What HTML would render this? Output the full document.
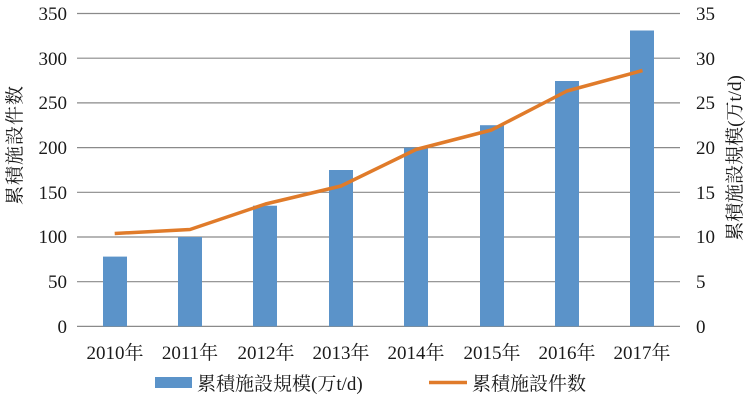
<!DOCTYPE html>
<html><head><meta charset="utf-8"><style>
body{margin:0;background:#fff}
svg text{font-family:"Liberation Serif","Noto Serif CJK SC",serif;fill:#1a1a1a}
</style></head><body>
<svg width="750" height="400" viewBox="0 0 750 400" xmlns="http://www.w3.org/2000/svg">
<g stroke="#8a8a8a" stroke-width="1.2">
<line x1="77" x2="680" y1="13.5" y2="13.5"/>
<line x1="77" x2="680" y1="58.2" y2="58.2"/>
<line x1="77" x2="680" y1="102.9" y2="102.9"/>
<line x1="77" x2="680" y1="147.6" y2="147.6"/>
<line x1="77" x2="680" y1="192.3" y2="192.3"/>
<line x1="77" x2="680" y1="237" y2="237"/>
<line x1="77" x2="680" y1="281.7" y2="281.7"/>
<line x1="77" x2="680" y1="326.4" y2="326.4"/>
</g>
<g font-size="19" text-anchor="end">
<text x="67" y="20">350</text><text x="67" y="65">300</text><text x="67" y="109">250</text><text x="67" y="154">200</text><text x="67" y="199">150</text><text x="67" y="243">100</text><text x="67" y="288">50</text><text x="67" y="333">0</text>
</g>
<g font-size="19" text-anchor="start">
<text x="696" y="20">35</text><text x="696" y="65">30</text><text x="696" y="109">25</text><text x="696" y="154">20</text><text x="696" y="199">15</text><text x="696" y="243">10</text><text x="696" y="288">5</text><text x="696" y="333">0</text>
</g>
<g fill="#5b93c9">
<rect x="103" y="256.6" width="24" height="69.8"/>
<rect x="178" y="237" width="24" height="89.4"/>
<rect x="253" y="205.7" width="24" height="120.7"/>
<rect x="329" y="170" width="24" height="156.4"/>
<rect x="404" y="147.6" width="24" height="178.8"/>
<rect x="480" y="125.2" width="24" height="201.2"/>
<rect x="555" y="81" width="24" height="245.4"/>
<rect x="630" y="30.5" width="24" height="295.9"/>
</g>
<polyline fill="none" stroke="#e07b2a" stroke-width="3.5" stroke-linejoin="round" points="114.7,233.5 190,229.5 265.5,204 341,186 416,149.5 491.5,130 567,91 642.5,70.5"/>
<g font-size="19" text-anchor="middle">
<text x="115" y="359">2010年</text><text x="190" y="359">2011年</text><text x="266" y="359">2012年</text><text x="341" y="359">2013年</text><text x="416" y="359">2014年</text><text x="492" y="359">2015年</text><text x="567" y="359">2016年</text><text x="642" y="359">2017年</text>
</g>
<text font-size="19" transform="translate(21,145) rotate(-90)" text-anchor="middle" letter-spacing="1">累積施設件数</text>
<text font-size="19" transform="translate(741,158) rotate(-90)" text-anchor="middle">累積施設規模(万t/d)</text>
<rect x="155" y="377" width="37" height="11" fill="#5b93c9"/>
<text x="197" y="390" font-size="19">累積施設規模(万t/d)</text>
<line x1="429" x2="467" y1="382.5" y2="382.5" stroke="#e07b2a" stroke-width="3.5"/>
<text x="472" y="390" font-size="19">累積施設件数</text>
</svg>
</body></html>
